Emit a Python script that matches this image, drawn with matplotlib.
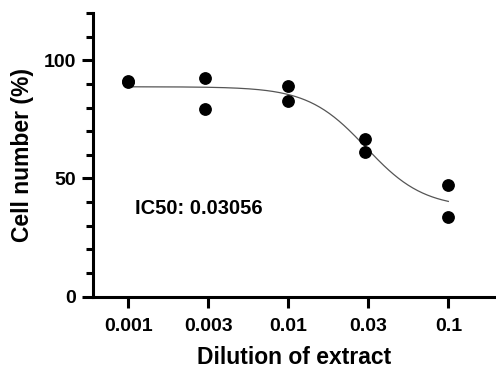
import numpy as np
import matplotlib
matplotlib.use('Agg')
import matplotlib.pyplot as plt
from matplotlib.ticker import FixedLocator, MultipleLocator, NullLocator

# data -------------------------------------------------------------------------
dilution = [0.001, 0.001, 0.003, 0.003, 0.01, 0.01, 0.03, 0.03, 0.1, 0.1]
cell_pct = [91.3, 90.9, 92.7, 79.2, 89.2, 82.8, 66.5, 61.3, 47.2, 33.8]

tick_pos = [0.001, 10**-2.5, 0.01, 10**-1.5, 0.1]
tick_lab = ['0.001', '0.003', '0.01', '0.03', '0.1']

# 4PL fit parameters
fit_top, fit_bottom, ic50, hill = 88.8, 37.5, 0.03056, 2.4

# plot -------------------------------------------------------------------------
plt.rcParams['font.family'] = ['Liberation Sans', 'DejaVu Sans']
plt.rcParams['font.weight'] = 'bold'

fig = plt.figure(figsize=(4.96, 3.69), dpi=100)
ax = fig.add_axes((0.1869, 0.1959, 0.8131, 0.7689))

xc = np.logspace(-3, -1, 200)
yc = fit_bottom + (fit_top - fit_bottom) / (1 + (xc / ic50) ** hill)
ax.plot(xc, yc, color='#555555', lw=0.9)
ax.plot(dilution, cell_pct, 'o', color='k', ms=8.2, mec='k', zorder=3)

ax.set_xscale('log')
ax.set_xlim(0.000599, 0.1986)
ax.set_ylim(0, 120)
ax.xaxis.set_major_locator(FixedLocator(tick_pos))
ax.set_xticklabels(tick_lab)
ax.xaxis.set_minor_locator(NullLocator())
ax.yaxis.set_major_locator(FixedLocator([0, 50, 100]))
ax.yaxis.set_minor_locator(MultipleLocator(10))

for s in ['top', 'right']:
    ax.spines[s].set_visible(False)
for s in ['left', 'bottom']:
    ax.spines[s].set_linewidth(2.2)
ax.tick_params(which='major', length=8, width=2.2, labelsize=14, pad=4)
ax.tick_params(which='minor', length=5, width=2.2)
ax.tick_params(axis='x', pad=7)

ax.text(0.0011, 37.3, 'IC50: 0.03056', fontsize=14.5, fontweight='bold', va='center')
ax.set_xlabel('Dilution of extract', fontsize=16.5, fontweight='bold', labelpad=8)
ax.set_ylabel('Cell number (%)', fontsize=16.5, fontweight='bold', labelpad=7)

fig.savefig('out.png', dpi=100)
